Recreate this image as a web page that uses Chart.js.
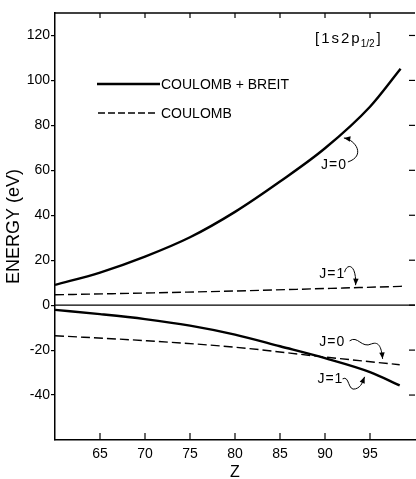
<!DOCTYPE html>
<html>
<head>
<meta charset="utf-8">
<script src="https://cdn.jsdelivr.net/npm/chart.js@4.4.1/dist/chart.umd.min.js"></script>
<style>
  html, body { margin: 0; padding: 0; background: #fff; }
  #caja { width: 416px; height: 479px; }
</style>
</head>
<body>
<div id="caja"><canvas id="grafico"></canvas></div>
<script>
// valores (Z vs energia en eV)
const zBreitJ0 = [60, 65, 70, 75, 80, 85, 90, 95, 98.4];
const breitJ0 = [9.0, 14.5, 21.6, 30.2, 41.5, 55.0, 69.8, 88.3, 105.2];
const zBreitJ1 = [60, 65, 70, 75, 80, 85, 90, 95, 98.3];
const breitJ1 = [-2.1, -4.0, -6.2, -9.1, -13.1, -18.3, -23.6, -29.8, -35.7];
const zCoulJ1 = [60, 70, 80, 90, 98.7];
const coulJ1 = [4.6, 5.4, 6.3, 7.4, 8.4];
const zCoulJ0 = [60, 70, 80, 90, 98.3];
const coulJ0 = [-13.6, -15.8, -18.7, -23.1, -26.5];

const xTicks = [65, 70, 75, 80, 85, 90, 95];
const yTicks = [-40, -20, 0, 20, 40, 60, 80, 100, 120];
const legendLabels = ["COULOMB + BREIT", "COULOMB"];

// etiquetas J y la punta de su flecha
const annoLabels = ["J=0", "J=1", "J=0", "J=1"];
const annoZ = [91.0, 90.8, 90.8, 90.6];
const annoE = [62.4, 13.7, -16.4, -32.8];
const tipZ = [92.1, 93.4, 96.4, 94.4];
const tipE = [74.4, 8.9, -23.9, -31.9];

const fuente = "'Liberation Sans', Arial, sans-serif";
Chart.defaults.font.family = fuente;
Chart.defaults.color = "#000";

const puntos = (xs, ys) => xs.map((x, i) => ({ x: x, y: ys[i] }));

// forma de cada flecha en pixeles, relativa a la punta
const formasFlecha = [
  [[4, 24], [22, 18], [12, 2], [0, 0]],
  [[-11, -13], [-9, -22], [1, -22], [0, 0]],
  [[-33, -18], [-25, -24], [-21, -10], [-11, -15], [-3, -18], [-1, -10], [0, 0]],
  [[-22, 2], [-15, -2], [-17, 15], [-9, 12], [-3, 10], [-2, 5], [0, 0]],
];

const linea = (ctx, x1, y1, x2, y2) => {
  ctx.beginPath();
  ctx.moveTo(x1, y1);
  ctx.lineTo(x2, y2);
  ctx.stroke();
};

const dibujos = {
  id: "dibujos",
  beforeDatasetsDraw(chart) {
    const { ctx, chartArea: a, scales } = chart;
    const y0 = scales.y.getPixelForValue(0);
    ctx.save();
    ctx.strokeStyle = "#000";
    ctx.lineWidth = 1.2;
    linea(ctx, a.left, y0, a.right, y0);
    ctx.restore();
  },
  afterDraw(chart) {
    const { ctx, chartArea: a, scales } = chart;
    const x = scales.x, y = scales.y;
    ctx.save();
    ctx.strokeStyle = "#000";
    ctx.fillStyle = "#000";

    // marco de arriba y ticks hacia adentro
    ctx.lineWidth = 1.5;
    linea(ctx, a.left, a.top, a.right, a.top);
    ctx.lineWidth = 1.2;
    xTicks.forEach((v) => {
      const px = x.getPixelForValue(v);
      linea(ctx, px, a.bottom, px, a.bottom - 7);
      linea(ctx, px, a.top, px, a.top + 5);
    });
    yTicks.forEach((v) => {
      const py = y.getPixelForValue(v);
      linea(ctx, a.right - 6, py, a.right, py);
    });

    // leyenda
    ctx.font = "14px " + fuente;
    ctx.textAlign = "left";
    ctx.textBaseline = "middle";
    ctx.lineWidth = 2.4;
    linea(ctx, a.left + 42, a.top + 71, a.left + 105, a.top + 71);
    ctx.fillText(legendLabels[0], a.left + 106, a.top + 72);
    ctx.lineWidth = 1.3;
    ctx.setLineDash([7, 3]);
    linea(ctx, a.left + 43, a.top + 100, a.left + 102, a.top + 100);
    ctx.setLineDash([]);
    ctx.fillText(legendLabels[1], a.left + 106, a.top + 101);

    // [1s2p1/2]
    ctx.textBaseline = "alphabetic";
    let tx = a.right - 100;
    const base = a.top + 30;
    ctx.font = "15px " + fuente;
    ctx.fillText("[", tx, base);
    tx += ctx.measureText("[").width + 2;
    ctx.letterSpacing = "2px";
    ctx.fillText("1s2p", tx, base);
    tx += ctx.measureText("1s2p").width - 1;
    ctx.letterSpacing = "0px";
    ctx.font = "10px " + fuente;
    ctx.fillText("1/2", tx, base + 4);
    tx += ctx.measureText("1/2").width + 2;
    ctx.font = "15px " + fuente;
    ctx.fillText("]", tx, base);

    // etiquetas J con flechas
    ctx.font = "14px " + fuente;
    ctx.letterSpacing = "1px";
    ctx.textAlign = "center";
    ctx.textBaseline = "middle";
    ctx.lineWidth = 1;
    annoLabels.forEach((t, i) => {
      ctx.fillText(t, x.getPixelForValue(annoZ[i]), y.getPixelForValue(annoE[i]));
      const px = x.getPixelForValue(tipZ[i]);
      const py = y.getPixelForValue(tipE[i]);
      const f = formasFlecha[i];
      ctx.beginPath();
      ctx.moveTo(px + f[0][0], py + f[0][1]);
      for (let k = 1; k < f.length; k += 3) {
        ctx.bezierCurveTo(px + f[k][0], py + f[k][1], px + f[k + 1][0], py + f[k + 1][1], px + f[k + 2][0], py + f[k + 2][1]);
      }
      ctx.stroke();
      const c = f[f.length - 2];
      const ang = Math.atan2(-c[1], -c[0]);
      ctx.beginPath();
      ctx.moveTo(px, py);
      ctx.lineTo(px - 7 * Math.cos(ang - 0.4), py - 7 * Math.sin(ang - 0.4));
      ctx.lineTo(px - 7 * Math.cos(ang + 0.4), py - 7 * Math.sin(ang + 0.4));
      ctx.closePath();
      ctx.fill();
    });
    ctx.restore();
  },
};

const serie = (label, data, dashed) => ({
  label: label,
  data: data,
  showLine: true,
  borderColor: "#000",
  borderWidth: dashed ? 1.4 : 2.4,
  borderDash: dashed ? [9, 4] : [],
  pointRadius: 0,
  cubicInterpolationMode: "monotone",
  fill: false,
});

const datasets = [
  serie(legendLabels[0], puntos(zBreitJ0, breitJ0), false),
  serie(legendLabels[0], puntos(zBreitJ1, breitJ1), false),
  serie(legendLabels[1], puntos(zCoulJ1, coulJ1), true),
  serie(legendLabels[1], puntos(zCoulJ0, coulJ0), true),
];

const config = {
  type: "scatter",
  data: { datasets },
  options: {
    responsive: true,
    maintainAspectRatio: false,
    animation: false,
    layout: { padding: { top: 13, right: 1, left: 0, bottom: 0 } },
    plugins: { legend: { display: false }, tooltip: { enabled: false } },
    scales: {
      x: {
        type: "linear",
        min: 60,
        max: 100,
        afterBuildTicks: (s) => { s.ticks = xTicks.map((v) => ({ value: v })); },
        afterFit: (s) => { s.height = 39; },
        grid: { display: true, drawOnChartArea: false, drawTicks: false },
        border: { display: true, color: "#000", width: 1.5 },
        ticks: { color: "#000", font: { size: 14 }, padding: 6, maxRotation: 0, autoSkip: false },
        title: { display: true, text: "Z", color: "#000", font: { size: 16, lineHeight: 1 }, padding: { top: 0, bottom: -2 } },
      },
      y: {
        type: "linear",
        min: -60,
        max: 130,
        afterBuildTicks: (s) => { s.ticks = yTicks.map((v) => ({ value: v })); },
        afterFit: (s) => { s.width = 55; },
        grid: { display: true, drawOnChartArea: false, drawTicks: true, tickLength: 4, color: "#000", lineWidth: 1.2 },
        border: { display: true, color: "#000", width: 1.5 },
        ticks: { color: "#000", font: { size: 14 }, padding: 1, autoSkip: false },
        title: { display: true, text: "ENERGY (eV)", color: "#000", font: { size: 18, lineHeight: 1 }, padding: { top: 5, bottom: 0 } },
      },
    },
  },
  plugins: [dibujos],
};

new Chart(document.getElementById("grafico"), config);
</script>
</body>
</html>
